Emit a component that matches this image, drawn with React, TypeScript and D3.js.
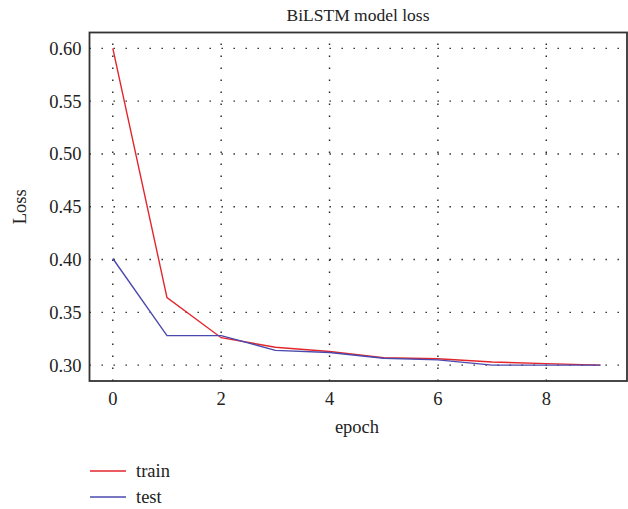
import * as d3 from "d3";

const epochs = [0, 1, 2, 3, 4, 5, 6, 7, 8, 9];
const trainLoss = [0.6, 0.364, 0.326, 0.317, 0.313, 0.307, 0.306, 0.303, 0.3015, 0.3];
const testLoss = [0.401, 0.328, 0.328, 0.314, 0.312, 0.3065, 0.305, 0.3, 0.3, 0.3];
const xTicks = [0, 2, 4, 6, 8];
const yTicks = [0.3, 0.35, 0.4, 0.45, 0.5, 0.55, 0.6];

const W = 628;
const H = 509;
const left = 89.5;
const right = 627;
const top = 32.5;
const bottom = 381;
const font = "'Liberation Serif', 'DejaVu Serif', serif";

export default function App() {
  const x = d3.scaleLinear().domain([-0.43, 9.49]).range([left, right]);
  const y = d3.scaleLinear().domain([0.285, 0.615]).range([bottom, top]);

  const line = d3
    .line<number>()
    .x((_, i) => x(epochs[i]))
    .y(d => y(d));

  const series = [
    { name: "train", values: trainLoss, color: "#e3262b" },
    { name: "test", values: testLoss, color: "#4a4aae" },
  ];

  return (
    <svg
      width={W}
      height={H}
      style={{ position: "absolute", left: 0, top: 0, background: "#fff" }}
      fontFamily={font}
    >
      <text x={358} y={21} textAnchor="middle" fontSize={17.5} fill="#222">
        BiLSTM model loss
      </text>

      {/* dotted grid */}
      <g stroke="#222" strokeWidth={1.4} strokeDasharray="1.4,10.6">
        {xTicks.map(t => (
          <line key={"gx" + t} x1={x(t)} x2={x(t)} y1={bottom} y2={top} />
        ))}
        {yTicks.map(t => (
          <line key={"gy" + t} x1={left} x2={right} y1={y(t)} y2={y(t)} />
        ))}
      </g>

      {series.map(s => (
        <path
          key={s.name}
          d={line(s.values) ?? ""}
          fill="none"
          stroke={s.color}
          strokeWidth={1.4}
        />
      ))}

      <rect
        x={left}
        y={top}
        width={right - left}
        height={bottom - top}
        fill="none"
        stroke="#333"
        strokeWidth={1.8}
      />

      <g fontSize={18.5} fill="#222">
        {yTicks.map(t => (
          <text key={"ty" + t} x={left - 8} y={y(t)} dy="0.35em" textAnchor="end">
            {d3.format(".2f")(t)}
          </text>
        ))}
        {xTicks.map(t => (
          <text key={"tx" + t} x={x(t)} y={bottom + 24} textAnchor="middle">
            {t}
          </text>
        ))}
        <text x={357} y={433} textAnchor="middle">
          epoch
        </text>
        <text transform={`translate(26, ${(top + bottom) / 2}) rotate(-90)`} textAnchor="middle">
          Loss
        </text>
      </g>

      <g fontSize={18.5} fill="#222">
        {series.map((s, i) => (
          <g key={"lg" + s.name} transform={`translate(90, ${471 + i * 26})`}>
            <line x1={0} x2={36} y1={0} y2={0} stroke={s.color} strokeWidth={1.4} />
            <text x={46} y={0} dy="0.3em">
              {s.name}
            </text>
          </g>
        ))}
      </g>
    </svg>
  );
}
